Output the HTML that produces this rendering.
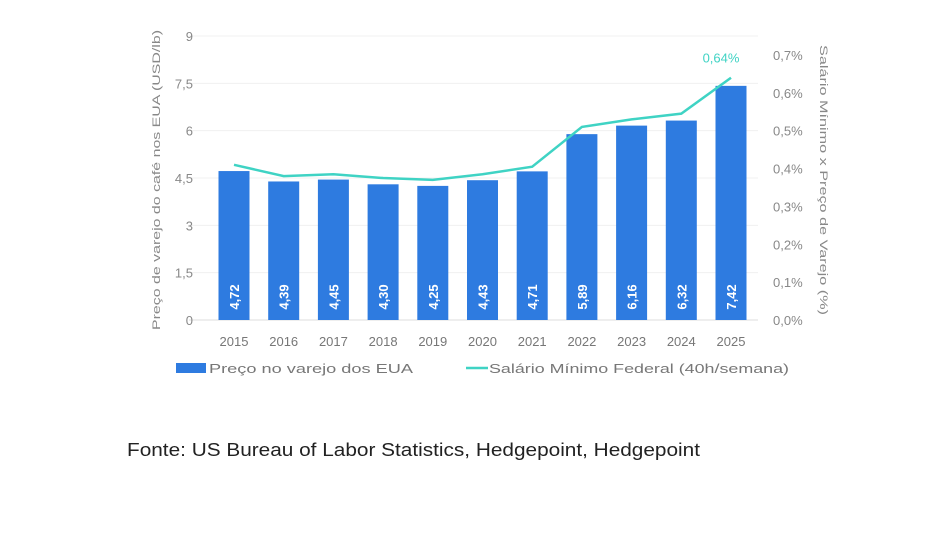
<!DOCTYPE html>
<html><head><meta charset="utf-8"><style>
body{margin:0;background:#fff;width:940px;height:530px;overflow:hidden;font-family:"Liberation Sans",sans-serif}
svg text{font-family:"Liberation Sans",sans-serif}
</style></head><body>
<svg width="940" height="530">
<g id="grid"></g><g id="bars"></g><g id="line"></g><g id="axes"></g>
<g>
<rect x="176" y="363" width="30" height="10" fill="#2e7be0"/>
<text x="209" y="373" font-size="13" fill="#777" textLength="204" lengthAdjust="spacingAndGlyphs">Preço no varejo dos EUA</text>
<line x1="466" y1="368" x2="488" y2="368" stroke="#3fd3c4" stroke-width="2.5"/>
<text x="489" y="373" font-size="13" fill="#777" textLength="300" lengthAdjust="spacingAndGlyphs">Salário Mínimo Federal (40h/semana)</text>
</g>
<text x="160" y="180" font-size="11" fill="#888" text-anchor="middle" textLength="300" lengthAdjust="spacingAndGlyphs" transform="rotate(-90 160 180)">Preço de varejo do café nos EUA (USD/lb)</text>
<text x="820" y="180" font-size="11" fill="#888" text-anchor="middle" textLength="270" lengthAdjust="spacingAndGlyphs" transform="rotate(90 820 180)">Salário Mínimo x Preço de Varejo (%)</text>
<text x="127" y="456" font-size="18" fill="#222" textLength="573" lengthAdjust="spacingAndGlyphs">Fonte: US Bureau of Labor Statistics, Hedgepoint, Hedgepoint</text>
</svg>
<script>
const years=["2015","2016","2017","2018","2019","2020","2021","2022","2023","2024","2025"];
const prices=[4.72,4.39,4.45,4.30,4.25,4.43,4.71,5.89,6.16,6.32,7.42];
const priceLabels=["4,72","4,39","4,45","4,30","4,25","4,43","4,71","5,89","6,16","6,32","7,42"];
const shares=[0.41,0.38,0.385,0.375,0.37,0.385,0.405,0.51,0.53,0.545,0.64];
const leftTicks=[0,1.5,3,4.5,6,7.5,9];
const leftTickLabels=["0","1,5","3","4,5","6","7,5","9"];
const rightTicks=[0,0.1,0.2,0.3,0.4,0.5,0.6,0.7];
const rightTickLabels=["0,0%","0,1%","0,2%","0,3%","0,4%","0,5%","0,6%","0,7%"];
const ns="http://www.w3.org/2000/svg";
const x0=209,step=49.7,bw=31;
const xc=i=>x0+25+i*step;
const yL=v=>320-v*(284/9);
const yR=v=>320-v*(265/0.7);
function mk(t,a,p){const e=document.createElementNS(ns,t);for(const k in a)e.setAttribute(k,a[k]);p.appendChild(e);return e;}
const grid=document.getElementById('grid'),bars=document.getElementById('bars'),line=document.getElementById('line'),axes=document.getElementById('axes');
leftTicks.forEach((v,i)=>{
 const g=mk('line',{x1:x0-20,x2:758,y1:yL(v),y2:yL(v),stroke:i==0?'#ddd':'#f0f0f0'},grid);
 
 
 const t=mk('text',{x:193,y:yL(v)+5,'font-size':13,fill:'#888','text-anchor':'end'},axes);t.textContent=leftTickLabels[i];
 
 
});
rightTicks.forEach((v,i)=>{
 const t=mk('text',{x:773,y:yR(v)+5,'font-size':13,fill:'#888'},axes);t.textContent=rightTickLabels[i];
 
 
});
years.forEach((y,i)=>{
 const b=mk('rect',{x:xc(i)-bw/2,y:yL(prices[i]),width:bw,height:320-yL(prices[i]),fill:'#2e7be0'},bars);
 
 
 const t=mk('text',{x:0,y:0,'font-size':13,'font-weight':'bold',fill:'#fff','text-anchor':'middle',transform:`translate(${xc(i)+5},${297}) rotate(-90)`},bars);t.textContent=priceLabels[i];
 
 
 const xl=mk('text',{x:xc(i),y:346,'font-size':13,fill:'#777','text-anchor':'middle'},axes);xl.textContent=y;
 
 
});
const pl=mk('polyline',{points:shares.map((v,i)=>xc(i)+','+yR(v)).join(' '),fill:'none',stroke:'#3fd3c4','stroke-width':2.5},line);


const last=shares.length-1;
const lt=mk('text',{x:xc(last)-10,y:yR(shares[last])-15,'font-size':13,fill:'#3fd3c4','text-anchor':'middle'},line);
lt.textContent=(shares[last]).toFixed(2).replace('.',',')+'%';


</script>
</body></html>
